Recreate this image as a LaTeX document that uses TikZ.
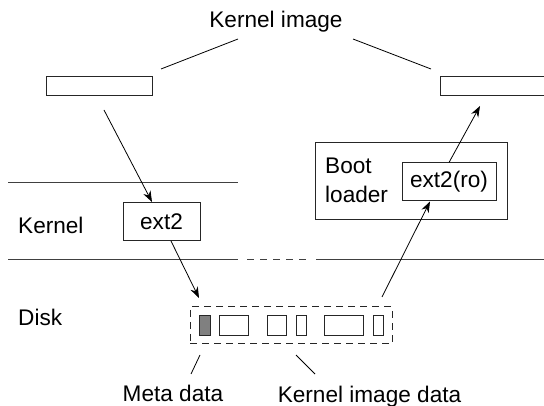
\documentclass[tikz,border=0pt]{standalone}
\usepackage{fontspec}
\setmainfont{Liberation Sans}
\usetikzlibrary{arrows.meta}
\begin{document}
\begin{tikzpicture}[x=1pt,y=-1pt,
  every node/.style={font=\fontsize{22.6}{29}\selectfont},
  box/.style={draw=black!85,line width=1pt,inner sep=0pt,rectangle},
  blk/.style={draw=black!85,line width=1pt},
  conn/.style={line width=0.8pt},
  arr/.style={line width=0.8pt,-{Stealth[length=11pt,width=8pt]}},
  lbl/.style={inner sep=0pt,anchor=base}
]
\useasboundingbox (0,0) rectangle (544,406);
\clip (0,0) rectangle (544,406);
% title and image boxes
\node[lbl] (title) at (276,28) {Kernel image};
\node[box,minimum width=106pt,minimum height=19pt] (lbox) at (99,86.5) {};
\node[box,minimum width=110pt,minimum height=19pt] (rbox) at (495,86.5) {};
\coordinate (tl) at (238,39);
\coordinate (tr) at (353,39);
\coordinate (lt) at (161,69);
\coordinate (rt) at (431,69);
\draw[conn] (tl) -- (lt);
\draw[conn] (tr) -- (rt);
% layer lines
\coordinate (k1) at (8,182); \coordinate (k2) at (238,182);
\draw[conn,black!75] (k1) -- (k2);
\coordinate (d1) at (8,259); \coordinate (d2) at (238,259);
\coordinate (d3) at (247,259); \coordinate (d4) at (307,259);
\coordinate (d5) at (316,259); \coordinate (d6) at (544,259);
\draw[conn,black!75] (d1) -- (d2);
\draw[conn,black!75,dash pattern=on 7pt off 6pt] (d3) -- (d4);
\draw[conn,black!75] (d5) -- (d6);
% labels
\node[lbl,anchor=base west] (kern) at (18,234) {Kernel};
\node[lbl,anchor=base west] (disk) at (18,326) {Disk};
% ext2
\node[box,minimum width=77pt,minimum height=38pt] (ext2) at (161.5,221.5) {ext2};
% boot loader
\node[box,minimum width=192pt,minimum height=77pt] (boot) at (411,181.5) {};
\node[lbl,anchor=base west,align=left] (bootl) at (325,174) {Boot};
\node[lbl,anchor=base west] (loadl) at (325,203) {loader};
\node[box,minimum width=94pt,minimum height=38pt] (ro) at (449,182) {ext2(ro)};
% disk
\node[draw=black!85,line width=1pt,dash pattern=on 7pt off 5pt,inner sep=0pt,minimum width=202pt,minimum height=37pt] (dbox) at (291,325.5) {};
\node[box,fill=black!50,minimum width=11pt,minimum height=20pt] (b1) at (204.5,326) {};
\node[box,minimum width=29pt,minimum height=20pt] (b2) at (233.5,326) {};
\node[box,minimum width=19pt,minimum height=20pt] (b3) at (276.5,326) {};
\node[box,minimum width=10pt,minimum height=20pt] (b4) at (301,326) {};
\node[box,minimum width=39pt,minimum height=20pt] (b5) at (343.5,326) {};
\node[box,minimum width=10pt,minimum height=20pt] (b6) at (378,326) {};
% arrows
\coordinate (a1s) at (104,110);
\draw[arr] (a1s) -- ([xshift=-9.5pt]ext2.north);
\coordinate (a2e) at (199,298);
\draw[arr] ([xshift=9.5pt]ext2.south) -- (a2e);
\coordinate (a3s) at (382,297);
\draw[arr] (a3s) -- ([xshift=-19pt]ro.south);
\coordinate (a4e) at (480,106);
\draw[arr] (ro.north) -- (a4e);
% bottom labels
\coordinate (m1) at (200,355); \coordinate (m2) at (191,374);
\coordinate (n1) at (296,355); \coordinate (n2) at (315,374);
\draw[conn] (m1) -- (m2);
\draw[conn] (n1) -- (n2);
\node[lbl] (meta) at (173,401) {Meta data};
\node[lbl] (kid) at (369.5,402) {Kernel image data};
\end{tikzpicture}
\end{document}
